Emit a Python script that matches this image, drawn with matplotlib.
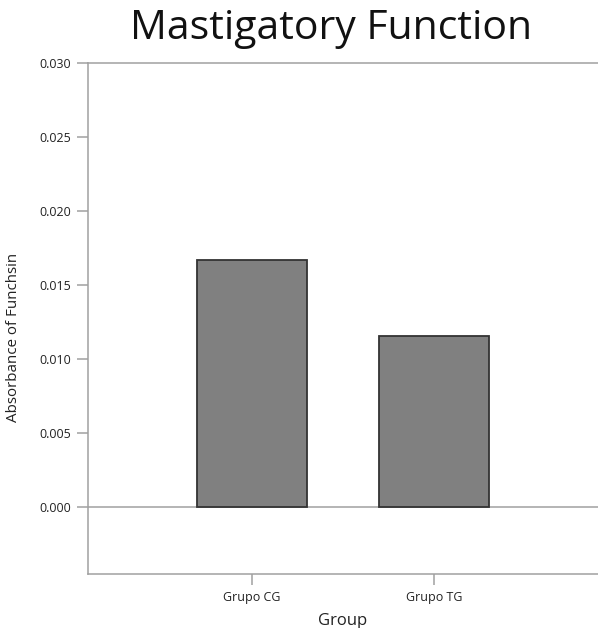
import matplotlib
matplotlib.use("Agg")
import matplotlib.pyplot as plt

categories = ["Grupo CG", "Grupo TG"]
values = [0.01669, 0.01155]
yticks = [0.000, 0.005, 0.010, 0.015, 0.020, 0.025, 0.030]

plt.rcParams['font.family'] = ['Open Sans', 'DejaVu Sans']

fig = plt.figure(figsize=(5.98, 6.28), dpi=100)
W, H = 598, 628
ax = fig.add_axes([88 / W, 1 - 574 / H, 1 - 88 / W, (574 - 63) / H])

x = list(range(len(categories)))
ax.bar(x, values, width=0.6, color="#808080", edgecolor="#333333", linewidth=1.3, zorder=3)
ax.axhline(0, color="#a0a0a0", linewidth=1.1, zorder=2)

ax.set_xlim(-0.9, 1.9)
ax.set_ylim(-0.00453, 0.030)
ax.set_yticks(yticks)
ax.set_yticklabels([f"{v:.3f}" for v in yticks])
ax.set_xticks(x)
ax.set_xticklabels(categories)

for s in ["left", "top", "bottom"]:
    ax.spines[s].set_color("#a0a0a0")
    ax.spines[s].set_linewidth(1.1)
ax.spines["right"].set_visible(False)
ax.tick_params(axis="both", colors="#a0a0a0", length=8, width=1.1, labelcolor="#222222", labelsize=9)
ax.tick_params(axis="y", pad=4)
ax.tick_params(axis="x", pad=4)

ax.set_ylabel("Absorbance of Funchsin", fontsize=10.9, color="#222222")
ax.yaxis.set_label_coords(-67 / (W - 88), (574 - 337) / (574 - 63))
ax.set_xlabel("Group", fontsize=12, color="#222222", labelpad=7)
fig.text(331 / W, 1 - 29 / H, "Mastigatory Function", fontsize=29.5, ha="center", va="center", color="#111111")

fig.savefig("out.png", dpi=100)
